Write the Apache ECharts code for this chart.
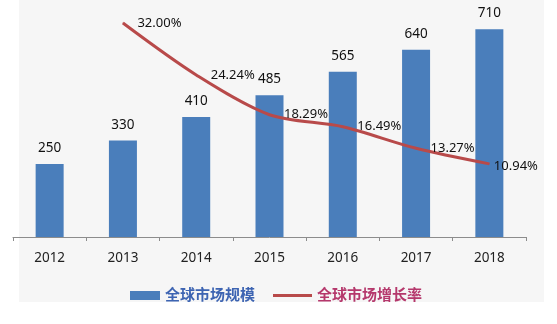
<!DOCTYPE html>
<html><head><meta charset="utf-8">
<style>html,body{margin:0;padding:0;background:#fff}#c{width:557px;height:324px}</style>
<script src="https://cdn.jsdelivr.net/npm/echarts@6/dist/echarts.min.js"></script>
</head><body><div id="c"></div>
<script>
var categories = ['2012','2013','2014','2015','2016','2017','2018'];
var marketSize = [250, 330, 410, 485, 565, 640, 710];
var growthRate = [null, 32.00, 24.24, 18.29, 16.49, 13.27, 10.94];
var sizeName = '全球市场规模';
var rateName = '全球市场增长率';

var chart = echarts.init(document.getElementById('c'), null, {renderer:'canvas'});
var font = '"Noto Sans", "Noto Sans CJK SC", sans-serif';
var rateData = growthRate.map(function(v, i){
  if (i === growthRate.length - 1) return {value: v, label: {distance: 4, offset: [0, 2]}};
  return v;
});
chart.setOption({
  animation: false,
  textStyle: {fontFamily: font},
  graphic: [{type:'rect', z:-10, shape:{x:19, y:0, width:525, height:302}, style:{fill:'#f6f6f6'}}],
  grid: {left: 13, right: 31, top: 3, bottom: 87},
  legend: [
    {data:[{name:sizeName, icon:'rect'}], left:125, top:283, itemWidth:30, itemHeight:9, itemGap:5,
     textStyle:{color:'#3d64b2', fontSize:15, fontWeight:'bold', fontFamily:font}},
    {data:[{name:rateName, icon:'rect'}], left:268, top:283, itemWidth:39, itemHeight:3, itemGap:5,
     textStyle:{color:'#b5386c', fontSize:15, fontWeight:'bold', fontFamily:font}}
  ],
  xAxis: {type:'category', data:categories,
    axisLine:{lineStyle:{color:'#8c8c8c', width:1}},
    axisTick:{show:true, length:4, lineStyle:{color:'#8c8c8c'}},
    axisLabel:{color:'#222', fontSize:13.5, margin:14, fontFamily:font}},
  yAxis: [
    {type:'value', min:0, max:800, show:false, splitLine:{show:false}},
    {type:'value', min:0, max:35, show:false, splitLine:{show:false}}
  ],
  series: [
    {name:sizeName, type:'bar', data:marketSize, barWidth:28, itemStyle:{color:'#4a7ebb'},
     label:{show:true, position:'top', distance:9, color:'#111', fontSize:13.5, fontFamily:font}},
    {name:rateName, type:'line', yAxisIndex:1, data:rateData, smooth:0.3,
     symbol:'circle', symbolSize:1, itemStyle:{color:'#b84a4a'},
     lineStyle:{color:'#b84a4a', width:3},
     label:{show:true, position:'right', distance:14, color:'#111', fontSize:13, fontFamily:font,
       formatter:function(p){return Number(p.value).toFixed(2)+'%';}}}
  ]
});
</script></body></html>
